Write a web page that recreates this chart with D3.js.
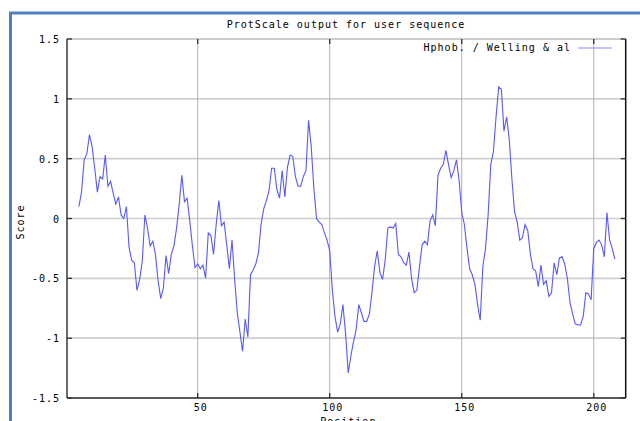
<!DOCTYPE html>
<html><head><meta charset="utf-8">
<script src="https://cdn.jsdelivr.net/npm/d3@7"></script>
<style>
html,body{margin:0;padding:0;background:#fff;overflow:hidden}
svg{display:block}
text{font-family:"DejaVu Sans Mono",monospace;font-size:10px;letter-spacing:1px;fill:#000}
</style></head>
<body><svg id="c" width="640" height="421"></svg>
<script>
const title = "ProtScale output for user sequence";
const seriesName = "Hphob. / Welling & al";
const xLabel = "Position";
const yLabel = "Score";
const xTicks = [50, 100, 150, 200];
const yTicks = [-1.5, -1, -0.5, 0, 0.5, 1, 1.5];
const yTickLabels = ["-1.5", "-1", "-0.5", "0", "0.5", "1", "1.5"];
const firstPosition = 5;
const scores = [
  0.10, 0.22, 0.49, 0.54, 0.70, 0.60, 0.42, 0.22, 0.35, 0.33,
  0.53, 0.27, 0.31, 0.21, 0.12, 0.18, 0.03, 0.00, 0.10, -0.24,
  -0.35, -0.37, -0.60, -0.51, -0.36, 0.03, -0.08, -0.23, -0.19, -0.30,
  -0.52, -0.67, -0.58, -0.31, -0.46, -0.30, -0.23, -0.08, 0.12, 0.36,
  0.14, 0.17, -0.02, -0.23, -0.41, -0.38, -0.42, -0.39, -0.50, -0.12,
  -0.14, -0.30, -0.05, 0.15, -0.06, -0.03, -0.22, -0.42, -0.18, -0.51,
  -0.79, -0.95, -1.11, -0.84, -0.99, -0.47, -0.43, -0.38, -0.29, -0.05,
  0.08, 0.15, 0.23, 0.42, 0.42, 0.24, 0.17, 0.40, 0.18, 0.43,
  0.53, 0.52, 0.35, 0.27, 0.27, 0.35, 0.40, 0.82, 0.60, 0.25,
  0.00, -0.03, -0.05, -0.12, -0.18, -0.27, -0.60, -0.82, -0.95, -0.88,
  -0.72, -0.96, -1.29, -1.15, -1.03, -0.93, -0.72, -0.79, -0.86, -0.86,
  -0.80, -0.62, -0.40, -0.27, -0.45, -0.51, -0.35, -0.08, -0.07, -0.08,
  -0.04, -0.30, -0.32, -0.37, -0.39, -0.28, -0.50, -0.62, -0.60, -0.40,
  -0.22, -0.19, -0.22, -0.02, 0.03, -0.06, 0.36, 0.42, 0.45, 0.57,
  0.45, 0.34, 0.40, 0.49, 0.32, 0.05, -0.05, -0.25, -0.42, -0.47,
  -0.55, -0.72, -0.85, -0.40, -0.25, 0.03, 0.45, 0.56, 0.85, 1.10,
  1.08, 0.73, 0.85, 0.66, 0.33, 0.06, -0.03, -0.18, -0.16, -0.05,
  -0.10, -0.30, -0.42, -0.44, -0.57, -0.39, -0.55, -0.52, -0.65, -0.62,
  -0.37, -0.47, -0.33, -0.32, -0.38, -0.50, -0.70, -0.80, -0.88, -0.89,
  -0.89, -0.82, -0.62, -0.63, -0.68, -0.25, -0.20, -0.18, -0.22, -0.32,
  0.05, -0.18, -0.25, -0.34
];

const data = scores.map((v, i) => ({pos: firstPosition + i, v}));

const svg = d3.select("#c");
const L = 67, R = 625.7, T = 39, B = 398;
const x = d3.scaleLinear().domain([0.5, 212.1]).range([L, R]);
const y = d3.scaleLinear().domain([-1.5, 1.5]).range([B, T]);

// outer blue frame
svg.append("rect").attr("x", 10.5).attr("y", 13).attr("width", 700).attr("height", 500)
  .attr("fill", "none").attr("stroke", "#4f81bd").attr("stroke-width", 3);

// grid
svg.append("g").selectAll("line").data(yTicks.filter(t => t > -1.5 && t < 1.5)).join("line")
  .attr("x1", L).attr("x2", R).attr("y1", d => y(d)).attr("y2", d => y(d))
  .attr("stroke", "#cfcfcf").attr("stroke-width", 1.6);
svg.append("g").selectAll("line").data(xTicks).join("line")
  .attr("x1", d => x(d)).attr("x2", d => x(d)).attr("y1", T).attr("y2", B)
  .attr("stroke", "#b0b0b0").attr("stroke-width", 1);

// axes frame
svg.append("line").attr("x1", L).attr("x2", R).attr("y1", T).attr("y2", T).attr("stroke", "#9a9a9a").attr("stroke-width", 1.2);
svg.append("line").attr("x1", L).attr("x2", L).attr("y1", T).attr("y2", B).attr("stroke", "#444").attr("stroke-width", 1.6);
svg.append("line").attr("x1", R).attr("x2", R).attr("y1", T).attr("y2", B).attr("stroke", "#111").attr("stroke-width", 1.5);
svg.append("line").attr("x1", L).attr("x2", R).attr("y1", B).attr("y2", B).attr("stroke", "#222").attr("stroke-width", 1.6);

// tick marks
const tg = svg.append("g").attr("stroke", "#333").attr("stroke-width", 1.3);
yTicks.forEach(t => {
  tg.append("line").attr("x1", L).attr("x2", L + 5).attr("y1", y(t)).attr("y2", y(t));
  tg.append("line").attr("x1", R - 5).attr("x2", R).attr("y1", y(t)).attr("y2", y(t));
});
xTicks.forEach(t => {
  tg.append("line").attr("x1", x(t)).attr("x2", x(t)).attr("y1", B).attr("y2", B - 5);
  tg.append("line").attr("x1", x(t)).attr("x2", x(t)).attr("y1", T).attr("y2", T + 5);
});

// tick labels
svg.append("g").selectAll("text").data(yTicks).join("text")
  .attr("x", 60).attr("y", d => y(d) + 4).attr("text-anchor", "end")
  .text((d, i) => yTickLabels[i]);
svg.append("g").selectAll("text").data(xTicks).join("text")
  .attr("x", d => x(d) + 3).attr("y", 411).attr("text-anchor", "middle")
  .text(d => d);

// titles
svg.append("text").attr("x", 346).attr("y", 28).attr("text-anchor", "middle").text(title);
svg.append("text").attr("x", (L + R) / 2 + 2).attr("y", 425).attr("text-anchor", "middle").text(xLabel);
svg.append("text").attr("transform", "translate(24,222) rotate(-90)").attr("text-anchor", "middle").text(yLabel);

// data line
svg.append("path").datum(data)
  .attr("fill", "none").attr("stroke", "#5858ff").attr("stroke-width", 1.1)
  .attr("stroke-linejoin", "miter")
  .attr("d", d3.line().x(d => x(d.pos)).y(d => y(d.v)));

// legend
svg.append("text").attr("x", 571).attr("y", 51).attr("text-anchor", "end").text(seriesName);
svg.append("line").attr("x1", 578).attr("x2", 612).attr("y1", 48).attr("y2", 48)
  .attr("stroke", "#8a8aff").attr("stroke-width", 1.2);
</script>
</body></html>
